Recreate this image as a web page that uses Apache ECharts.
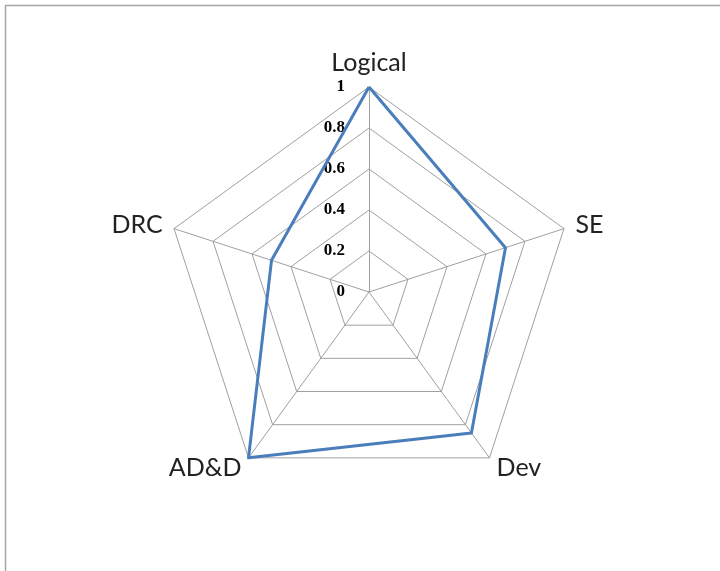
<!DOCTYPE html>
<html>
<head>
<meta charset="utf-8">
<script src="https://cdn.jsdelivr.net/npm/echarts@6/dist/echarts.min.js"></script>
<style>
  html, body { margin: 0; padding: 0; background: #fff; }
  #main { width: 720px; height: 571px; }
</style>
</head>
<body>
<div id="main"></div>
<script>
// axes of the radar; echarts lays them out counter-clockwise from the top
var categories = ['Logical', 'DRC', 'AD&D', 'Dev', 'SE'];
var scores = [1, 0.5, 1, 0.85, 0.7];
var axisMax = 1;

var chart = echarts.init(document.getElementById('main'));

var indicators = categories.map(function (name, i) {
    var ind = { name: name, max: axisMax, min: 0 };
    // only the first (top) axis carries the tick labels
    ind.axisLabel = { show: i === 0 };
    return ind;
});

var option = {
    backgroundColor: '#fff',
    animation: false,
    graphic: [{
        type: 'rect',
        shape: { x: 5.5, y: 5.5, width: 730, height: 590 },
        style: { fill: 'none', stroke: '#a6a6a6', lineWidth: 1.5 },
        silent: true
    }],
    radar: {
        center: [369, 292],
        radius: 205,
        startAngle: 90,
        shape: 'polygon',
        splitNumber: 5,
        indicator: indicators,
        axisName: {
            color: '#222',
            fontFamily: 'Lato, "Noto Sans", sans-serif',
            fontSize: 25
        },
        nameGap: 12,
        splitLine: { lineStyle: { color: '#a0a0a0', width: 1 } },
        splitArea: { show: false },
        axisLine: { lineStyle: { color: '#a0a0a0', width: 1 } },
        axisTick: { show: false },
        axisLabel: {
            show: false,
            color: '#000',
            fontFamily: '"Liberation Serif", serif',
            fontSize: 17,
            fontWeight: 'bold',
            margin: 24,
            formatter: function (v) { return String(+v.toFixed(1)); }
        }
    },
    series: [{
        type: 'radar',
        symbol: 'none',
        lineStyle: { color: '#4a7ebb', width: 3 },
        data: [{ value: scores, name: 'Score' }]
    }]
};

chart.setOption(option);
</script>
</body>
</html>
